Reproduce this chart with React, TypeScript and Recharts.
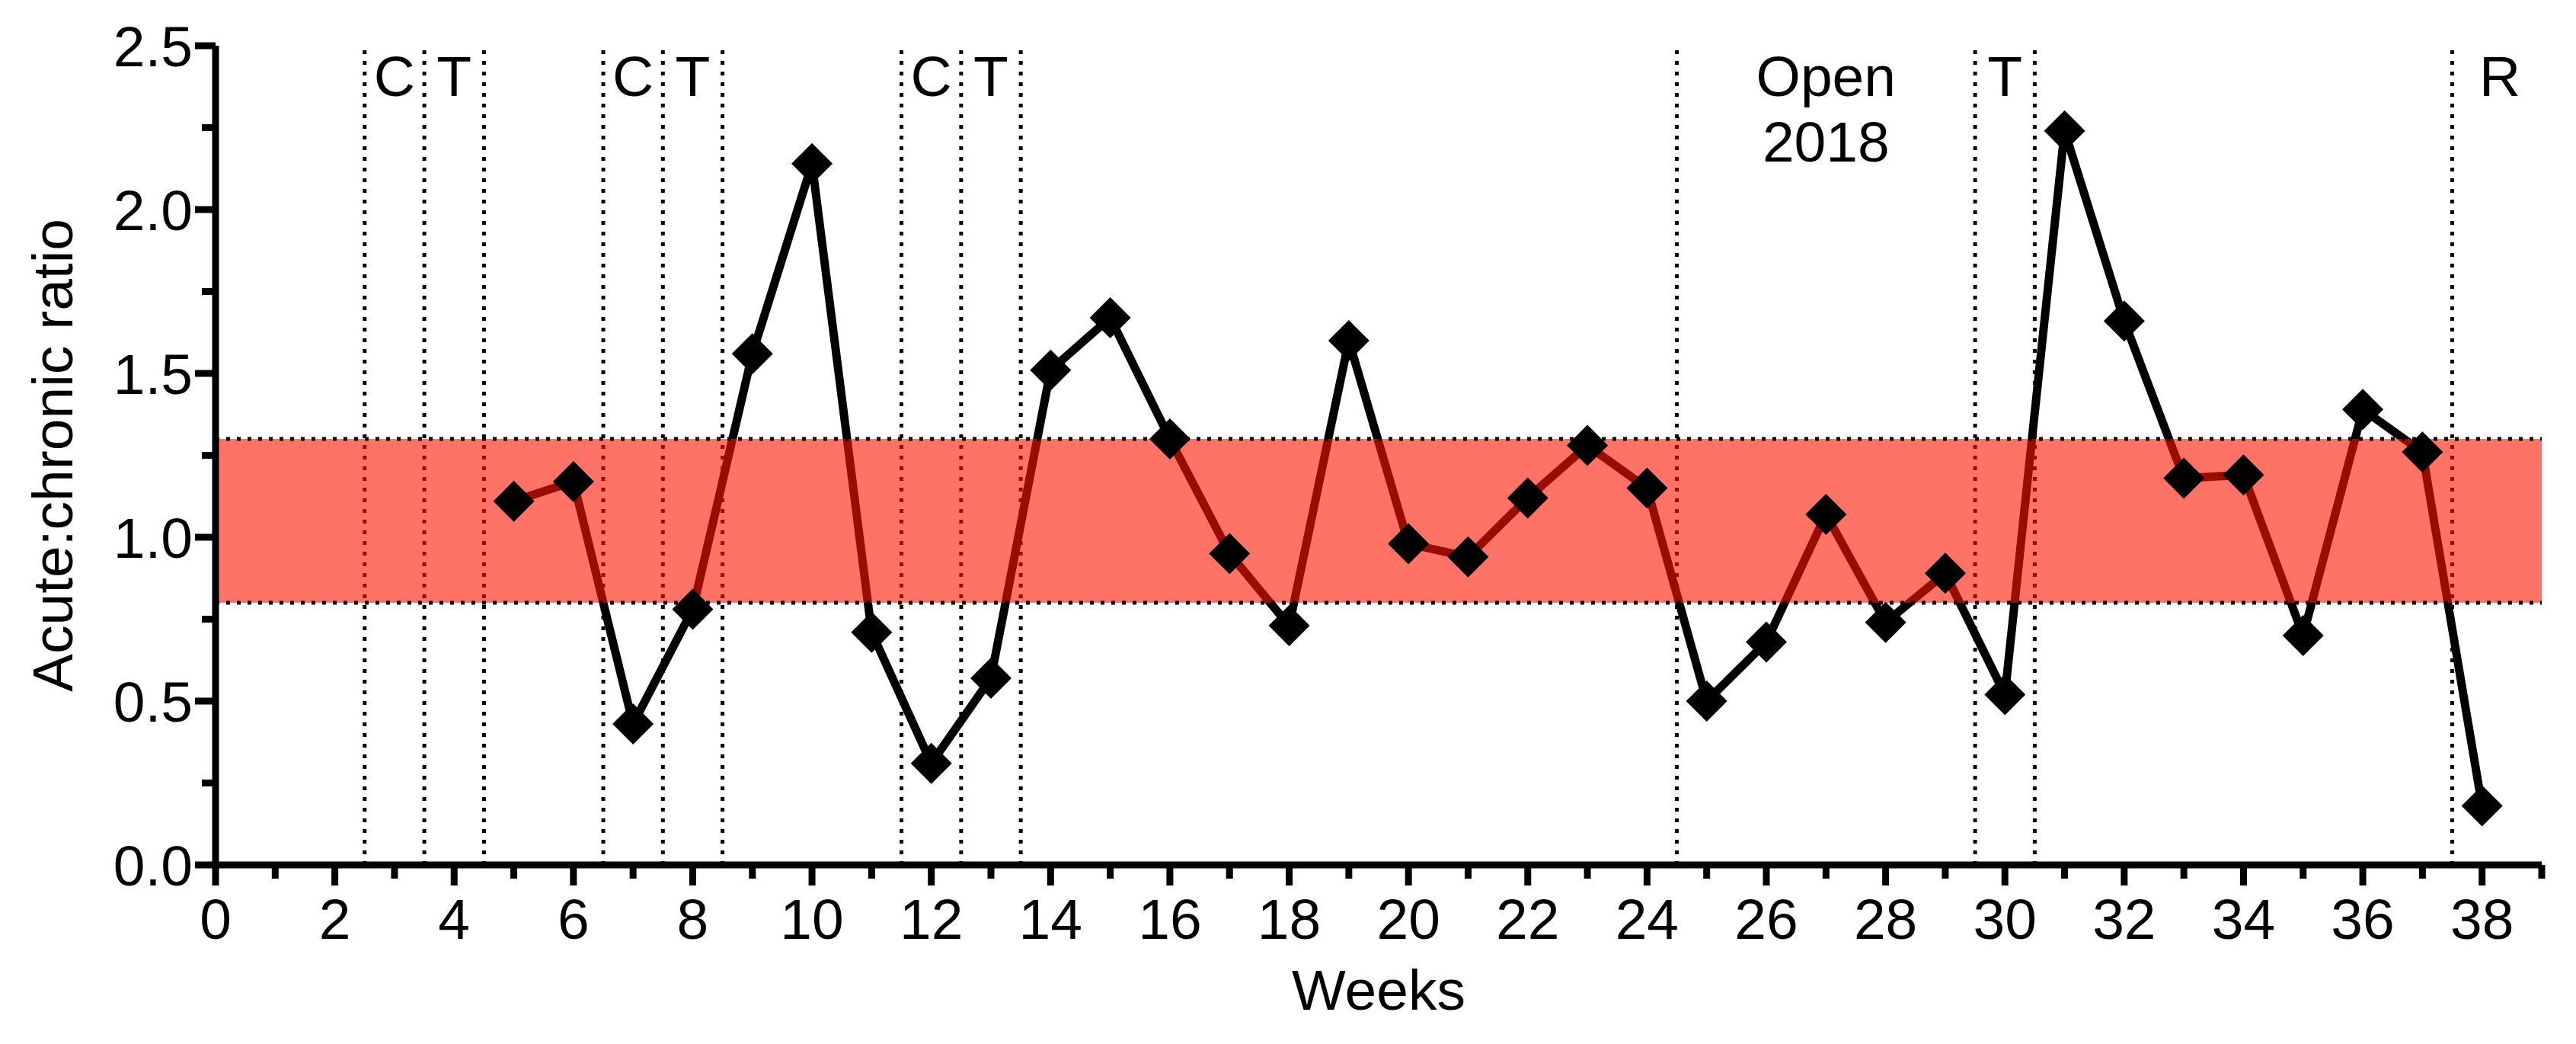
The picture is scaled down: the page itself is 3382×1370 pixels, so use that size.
import React from "react";
import {
  ComposedChart,
  Line,
  Scatter,
  XAxis,
  YAxis,
  ReferenceArea,
  ReferenceLine,
  Label,
} from "recharts";

document.body.style.margin = "0";

const FONT = '"Liberation Sans", Arial, Helvetica, sans-serif';
const FONT_SIZE = 75;

const weeks = [
  5, 6, 7, 8, 9, 10, 11, 12, 13, 14, 15, 16, 17, 18, 19, 20, 21, 22, 23, 24, 25,
  26, 27, 28, 29, 30, 31, 32, 33, 34, 35, 36, 37, 38,
];
const ratios = [
  1.11, 1.17, 0.43, 0.78, 1.56, 2.14, 0.71, 0.31, 0.57, 1.51, 1.67, 1.3, 0.95,
  0.73, 1.6, 0.98, 0.94, 1.12, 1.28, 1.15, 0.5, 0.68, 1.07, 0.74, 0.89, 0.52,
  2.24, 1.66, 1.18, 1.19, 0.7, 1.39, 1.26, 0.18,
];

const xTicks = Array.from({ length: 40 }, (_, i) => i);
const yTicks = [0, 0.25, 0.5, 0.75, 1, 1.25, 1.5, 1.75, 2, 2.25, 2.5];

const targetBand = [0.8, 1.3];
const phaseLines = [2.5, 3.5, 4.5, 6.5, 7.5, 8.5, 11.5, 12.5, 13.5, 24.5, 29.5, 30.5, 37.5];
const phaseWeeks = [3, 4, 7, 8, 12, 13, 27, 30, 38.3];
const phaseTexts = [["C"], ["T"], ["C"], ["T"], ["C"], ["T"], ["Open", "2018"], ["T"], ["R"]];

const series = weeks.map((week, i) => ({ week, ratio: ratios[i] }));
const phaseLabels = phaseWeeks.map((week, i) => ({ week, top: 2.5, lines: phaseTexts[i] }));

const XTick = (props: any) => {
  const { x, y, payload } = props;
  const major = payload.value % 2 === 0;
  return (
    <g>
      <line x1={x} x2={x} y1={y} y2={y + (major ? 27 : 18)} stroke="#000" strokeWidth={9} />
      {major && (
        <text x={x} y={y + 97} textAnchor="middle" fontFamily={FONT} fontSize={FONT_SIZE} fill="#000">
          {payload.value}
        </text>
      )}
    </g>
  );
};

const YTick = (props: any) => {
  const { x, y, payload } = props;
  const major = Math.abs(payload.value * 2 - Math.round(payload.value * 2)) < 1e-6;
  return (
    <g>
      <line x1={x} x2={x - (major ? 27 : 18)} y1={y} y2={y} stroke="#000" strokeWidth={9} />
      {major && (
        <text x={x - 30} y={y + 27} textAnchor="end" fontFamily={FONT} fontSize={FONT_SIZE} fill="#000">
          {payload.value.toFixed(1)}
        </text>
      )}
    </g>
  );
};

const Diamond = (props: any) => {
  const { cx, cy, index } = props;
  if (cx == null || cy == null) return <g key={`d-${index}`} />;
  const r = 27;
  return (
    <path
      key={`d-${index}`}
      d={`M${cx},${cy - r}L${cx + r},${cy}L${cx},${cy + r}L${cx - r},${cy}Z`}
      fill="#000"
    />
  );
};

const PhaseText = (props: any) => {
  const { cx, cy, payload } = props;
  return (
    <text x={cx} y={cy + 66} textAnchor="middle" fontFamily={FONT} fontSize={FONT_SIZE} fill="#000">
      {payload.lines.map((t: string, i: number) => (
        <tspan key={i} x={cx} dy={i === 0 ? 0 : 86}>
          {t}
        </tspan>
      ))}
    </text>
  );
};

export default function App() {
  return (
    <div style={{ width: 3382, height: 1370, background: "#fff" }}>
      <ComposedChart
        width={3382}
        height={1370}
        data={series}
        margin={{ top: 60, right: 45, bottom: 0, left: 0 }}
      >
        <XAxis
          type="number"
          dataKey="week"
          domain={[0, 39]}
          ticks={xTicks}
          interval={0}
          tickSize={0}
          tickMargin={0}
          tickLine={false}
          axisLine={{ stroke: "#000", strokeWidth: 9 }}
          tick={(p: any) => <XTick {...p} />}
          height={235}
        >
          <Label
            content={(p: any) => {
              const vb = p.viewBox;
              return (
                <text
                  x={vb.x + vb.width / 2}
                  y={1325}
                  textAnchor="middle"
                  fontFamily={FONT}
                  fontSize={FONT_SIZE}
                  fill="#000"
                >
                  Weeks
                </text>
              );
            }}
          />
        </XAxis>
        <YAxis
          type="number"
          domain={[0, 2.5]}
          ticks={yTicks}
          interval={0}
          tickSize={0}
          tickMargin={0}
          tickLine={false}
          axisLine={{ stroke: "#000", strokeWidth: 9 }}
          tick={(p: any) => <YTick {...p} />}
          width={283}
        >
          <Label
            content={(p: any) => {
              const vb = p.viewBox;
              const cy = vb.y + vb.height / 2;
              return (
                <text
                  x={95}
                  y={cy}
                  transform={`rotate(-90, 95, ${cy})`}
                  textAnchor="middle"
                  fontFamily={FONT}
                  fontSize={FONT_SIZE}
                  fill="#000"
                >
                  Acute:chronic ratio
                </text>
              );
            }}
          />
        </YAxis>

        {phaseLines.map((x) => (
          <ReferenceLine
            key={`pl-${x}`}
            x={x}
            stroke="#000"
            strokeWidth={5}
            strokeDasharray="5 9"
            zIndex={300}
          />
        ))}

        <Line
          type="linear"
          dataKey="ratio"
          stroke="#000"
          strokeWidth={11}
          dot={(p: any) => <Diamond {...p} />}
          activeDot={false}
          isAnimationActive={false}
        />

        <ReferenceArea
          y1={targetBand[0]}
          y2={targetBand[1]}
          fill="#ff1400"
          fillOpacity={0.6}
          stroke="none"
          zIndex={450}
        />
        {targetBand.map((y) => (
          <ReferenceLine
            key={`bl-${y}`}
            y={y}
            stroke="#000"
            strokeWidth={5}
            strokeDasharray="5 9"
            zIndex={460}
          />
        ))}

        <Scatter
          data={phaseLabels}
          dataKey="top"
          shape={(p: any) => <PhaseText {...p} />}
          isAnimationActive={false}
        />
      </ComposedChart>
    </div>
  );
}
